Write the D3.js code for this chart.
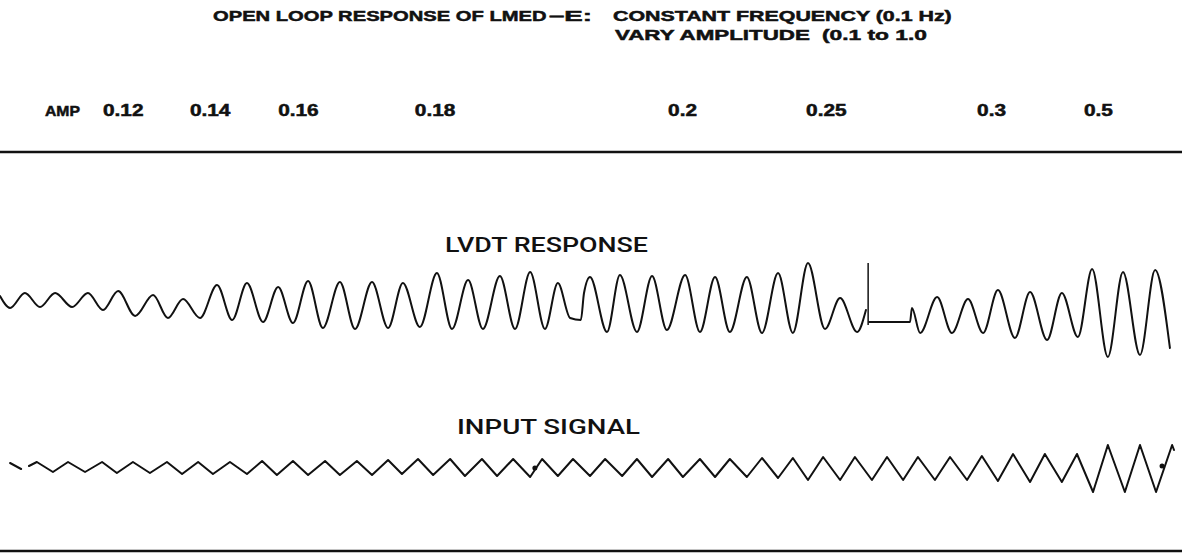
<!DOCTYPE html>
<html>
<head>
<meta charset="utf-8">
<title>Open loop response of LMED-E</title>
<style>
  body { margin: 0; background: #fff; }
  svg { display: block; }
  .trace { fill: none; stroke: #111; stroke-width: 2; stroke-linejoin: round; stroke-linecap: round; }
  .rule { stroke: #111; stroke-width: 2.5; }
  .hdr { font-family: "Liberation Sans", Arial, sans-serif; font-weight: bold; fill: #111; stroke: #111; stroke-width: 0.5; }
  .lbl { font-family: Roboto, "Liberation Sans", sans-serif; font-weight: 500; fill: #111; }
</style>
</head>
<body>
<script src="https://cdnjs.cloudflare.com/ajax/libs/d3/7.8.5/d3.min.js"></script>
<script>
// time in seconds (0.1 Hz -> one cycle per 10 s), pen deflection in chart divisions

// amplitude steps written along the top of the record
const ampLabels = ["0.12", "0.14", "0.16", "0.18", "0.2", "0.25", "0.3", "0.5"];
const ampTimes  = [32.7, 60.3, 88.3, 131.7, 212.1, 255.9, 310.2, 344.1];

// LVDT response, turning points of the trace (null = pen lifted)
const lvdtT = [0, 3.2, 7.9, 12.7, 17.5, 22.9, 27.9, 32.7, 37.5, 42.9,
  48.6, 53.3, 58.1, 63.5, 68.9, 73.7, 78.4, 83.5, 88.3, 93.0,
  97.8, 102.5, 107.9, 112.7, 118.1, 123.2, 127.9, 133.3, 138.7, 143.5,
  148.6, 153.3, 158.7, 163.5, 168.3, 173.0, 177.1, 181.0, 184.4, 185.4,
  187.3, 192.7, 196.8, 202.2, 207.0, 211.7, 217.5, 222.2, 227.0, 231.7,
  237.1, 241.9, 247.0, 251.7, 256.5, 261.9, 266.7, 272.1, 274.9, 275.4,
  275.9, 288.9, 289.5, 292.1, 297.5, 302.2, 307.3, 312.1, 316.8, 322.2,
  327.0, 332.4, 337.1, 342.2, 346.7, 351.7, 356.5, 361.9, 366.7, 371.4];
const lvdtV = [0.9, -0.3, 1.2, -0.2, 1.2, -0.2, 1.2, -0.5, 1.4, -1.1,
  1.0, -1.3, 0.6, -1.3, 2.0, -1.5, 2.2, -1.7, 1.8, -1.8,
  2.4, -2.3, 2.3, -2.4, 2.3, -2.3, 2.2, -2.2, 3.2, -2.4,
  2.5, -2.4, 2.9, -2.4, 3.3, -2.4, 2.2, -1.3, -1.5, 1.2,
  2.8, -2.7, 3.0, -2.7, 2.9, -2.5, 3.0, -2.7, 2.8, -2.7,
  2.8, -2.8, 3.2, -2.8, 4.2, -2.4, 0.7, -2.7, -0.5, null,
  -1.7, -1.7, -0.3, -2.8, 0.8, -2.8, 0.6, -2.8, 1.5, -3.3,
  1.3, -3.5, 1.2, -3.2, 3.6, -5.2, 3.3, -5.0, 3.5, -4.3];

// event mark on the LVDT channel
const markT = [275.6];
const markTop = [4.2];
const markBottom = [-2.0];

// input signal, triangle wave turning points
const inT = [3.2, 6.7, 8.0, 9.2, 11.7, 16.8, 21.6, 27.0, 32.4, 37.1,
  42.2, 47.6, 53.0, 57.8, 62.9, 67.6, 73.0, 78.4, 83.2, 87.9,
  93.0, 97.8, 103.2, 107.9, 113.3, 118.1, 123.2, 127.6, 132.7, 137.5,
  142.9, 147.6, 153.0, 157.8, 162.9, 168.3, 172.1, 177.1, 181.9, 187.3,
  192.1, 197.5, 202.2, 207.0, 212.1, 216.8, 222.2, 227.0, 231.7, 237.1,
  241.9, 247.0, 251.7, 256.5, 261.3, 266.7, 271.4, 276.8, 281.6, 286.7,
  291.4, 296.8, 301.6, 307.0, 311.7, 316.8, 321.6, 327.0, 331.7, 337.1,
  341.9, 347.0, 351.7, 357.1, 361.9, 367.0, 372.1, 372.7];
const inV = [0.5, -0.1, null, 0.2, 0.6, -0.4, 0.6, -0.4, 0.6, -0.5,
  0.6, -0.5, 0.6, -0.6, 0.6, -0.6, 0.6, -0.6, 0.7, -0.7,
  0.7, -0.7, 0.7, -0.7, 0.7, -0.7, 0.8, -0.6, 0.9, -0.7,
  0.9, -0.8, 0.9, -0.8, 0.9, -0.9, 0.9, -0.8, 0.9, -0.8,
  0.9, -0.8, 0.9, -0.9, 0.9, -0.9, 0.9, -0.9, 0.9, -0.9,
  1.0, -1.0, 1.0, -1.2, 1.1, -1.2, 1.1, -1.2, 1.1, -1.2,
  1.1, -1.2, 1.1, -1.2, 1.2, -1.3, 1.4, -1.4, 1.4, -1.4,
  1.4, -2.4, 2.3, -2.4, 2.3, -2.4, 2.3, 1.8];

// pen blobs on the input channel
const dotT = [169.8, 368.9];
const dotV = [0.0, 0.2];

const width = 1182,
      height = 556;

const svg = d3.select("body").append("svg")
  .attr("width", width)
  .attr("height", height);

const x = d3.scaleLinear().domain([0, 375]).range([0, 1181.25]);
const yL = d3.scaleLinear().domain([-6, 6]).range([365, 245]);
const yI = d3.scaleLinear().domain([-6, 6]).range([528, 408]);

const lvdt = d3.zip(lvdtT, lvdtV);
const input = d3.zip(inT, inV);

// titles, stretched out wide like the original lettering
const hdr = [
  {text: "OPEN LOOP RESPONSE OF LMED", x: 213, y: 21, len: 334},
  {text: "\u2013E:", x: 549, y: 21, len: 43},
  {text: "CONSTANT FREQUENCY (0.1 Hz)", x: 613, y: 21, len: 339},
  {text: "VARY AMPLITUDE", x: 615, y: 40, len: 195},
  {text: "(0.1 to 1.0", x: 822, y: 40, len: 105}
];
svg.selectAll(".title")
  .data(hdr)
  .enter().append("text")
    .attr("class", "hdr title")
    .attr("font-size", 15)
    .text(d => d.text)
    .attr("transform", function(d) {
      const w = this.getBBox().width;
      return "translate(" + d.x + "," + d.y + ") scale(" + (d.len / w) + ",1)";
    });

// amplitude row
svg.append("text")
  .attr("class", "hdr")
  .attr("x", 45)
  .attr("y", 116)
  .attr("font-size", 14)
  .attr("textLength", 35)
  .attr("lengthAdjust", "spacingAndGlyphs")
  .text("AMP");

svg.selectAll(".amp")
  .data(ampLabels)
  .enter().append("text")
    .attr("class", "hdr amp")
    .attr("x", (d, i) => x(ampTimes[i]))
    .attr("y", 116)
    .attr("font-size", 16)
    .text(d => d)
    .each(function() {
      const w = this.getComputedTextLength();
      d3.select(this)
        .attr("textLength", w * 1.3)
        .attr("lengthAdjust", "spacingAndGlyphs");
    });

// rules
svg.selectAll(".rule")
  .data([152, 551])
  .enter().append("line")
    .attr("class", "rule")
    .attr("x1", 0)
    .attr("x2", width)
    .attr("y1", d => d)
    .attr("y2", d => d);

// channel labels
svg.append("text")
  .attr("class", "lbl")
  .attr("x", 445)
  .attr("y", 252)
  .attr("font-size", 20)
  .attr("textLength", 203)
  .attr("lengthAdjust", "spacingAndGlyphs")
  .text("LVDT RESPONSE");

svg.append("text")
  .attr("class", "lbl")
  .attr("x", 457)
  .attr("y", 434)
  .attr("font-size", 20)
  .attr("textLength", 183)
  .attr("lengthAdjust", "spacingAndGlyphs")
  .text("INPUT SIGNAL");

// traces
const lvdtLine = d3.line()
  .defined(d => d[1] !== null)
  .x(d => x(d[0]))
  .y(d => yL(d[1]))
  .curve(d3.curveMonotoneX);

const inLine = d3.line()
  .defined(d => d[1] !== null)
  .x(d => x(d[0]))
  .y(d => yI(d[1]));

svg.append("path")
  .attr("class", "trace")
  .attr("d", lvdtLine(lvdt));

svg.selectAll(".mark")
  .data(markT)
  .enter().append("line")
    .attr("class", "mark")
    .attr("x1", d => x(d))
    .attr("x2", d => x(d))
    .attr("y1", (d, i) => yL(markTop[i]))
    .attr("y2", (d, i) => yL(markBottom[i]))
    .style("stroke", "#111")
    .style("stroke-width", 1.5);

svg.append("path")
  .attr("class", "trace")
  .attr("d", inLine(input));

svg.selectAll(".dot")
  .data(dotT)
  .enter().append("circle")
    .attr("class", "dot")
    .attr("cx", d => x(d))
    .attr("cy", (d, i) => yI(dotV[i]))
    .attr("r", 2.5)
    .style("fill", "#111");
</script>
</body>
</html>
